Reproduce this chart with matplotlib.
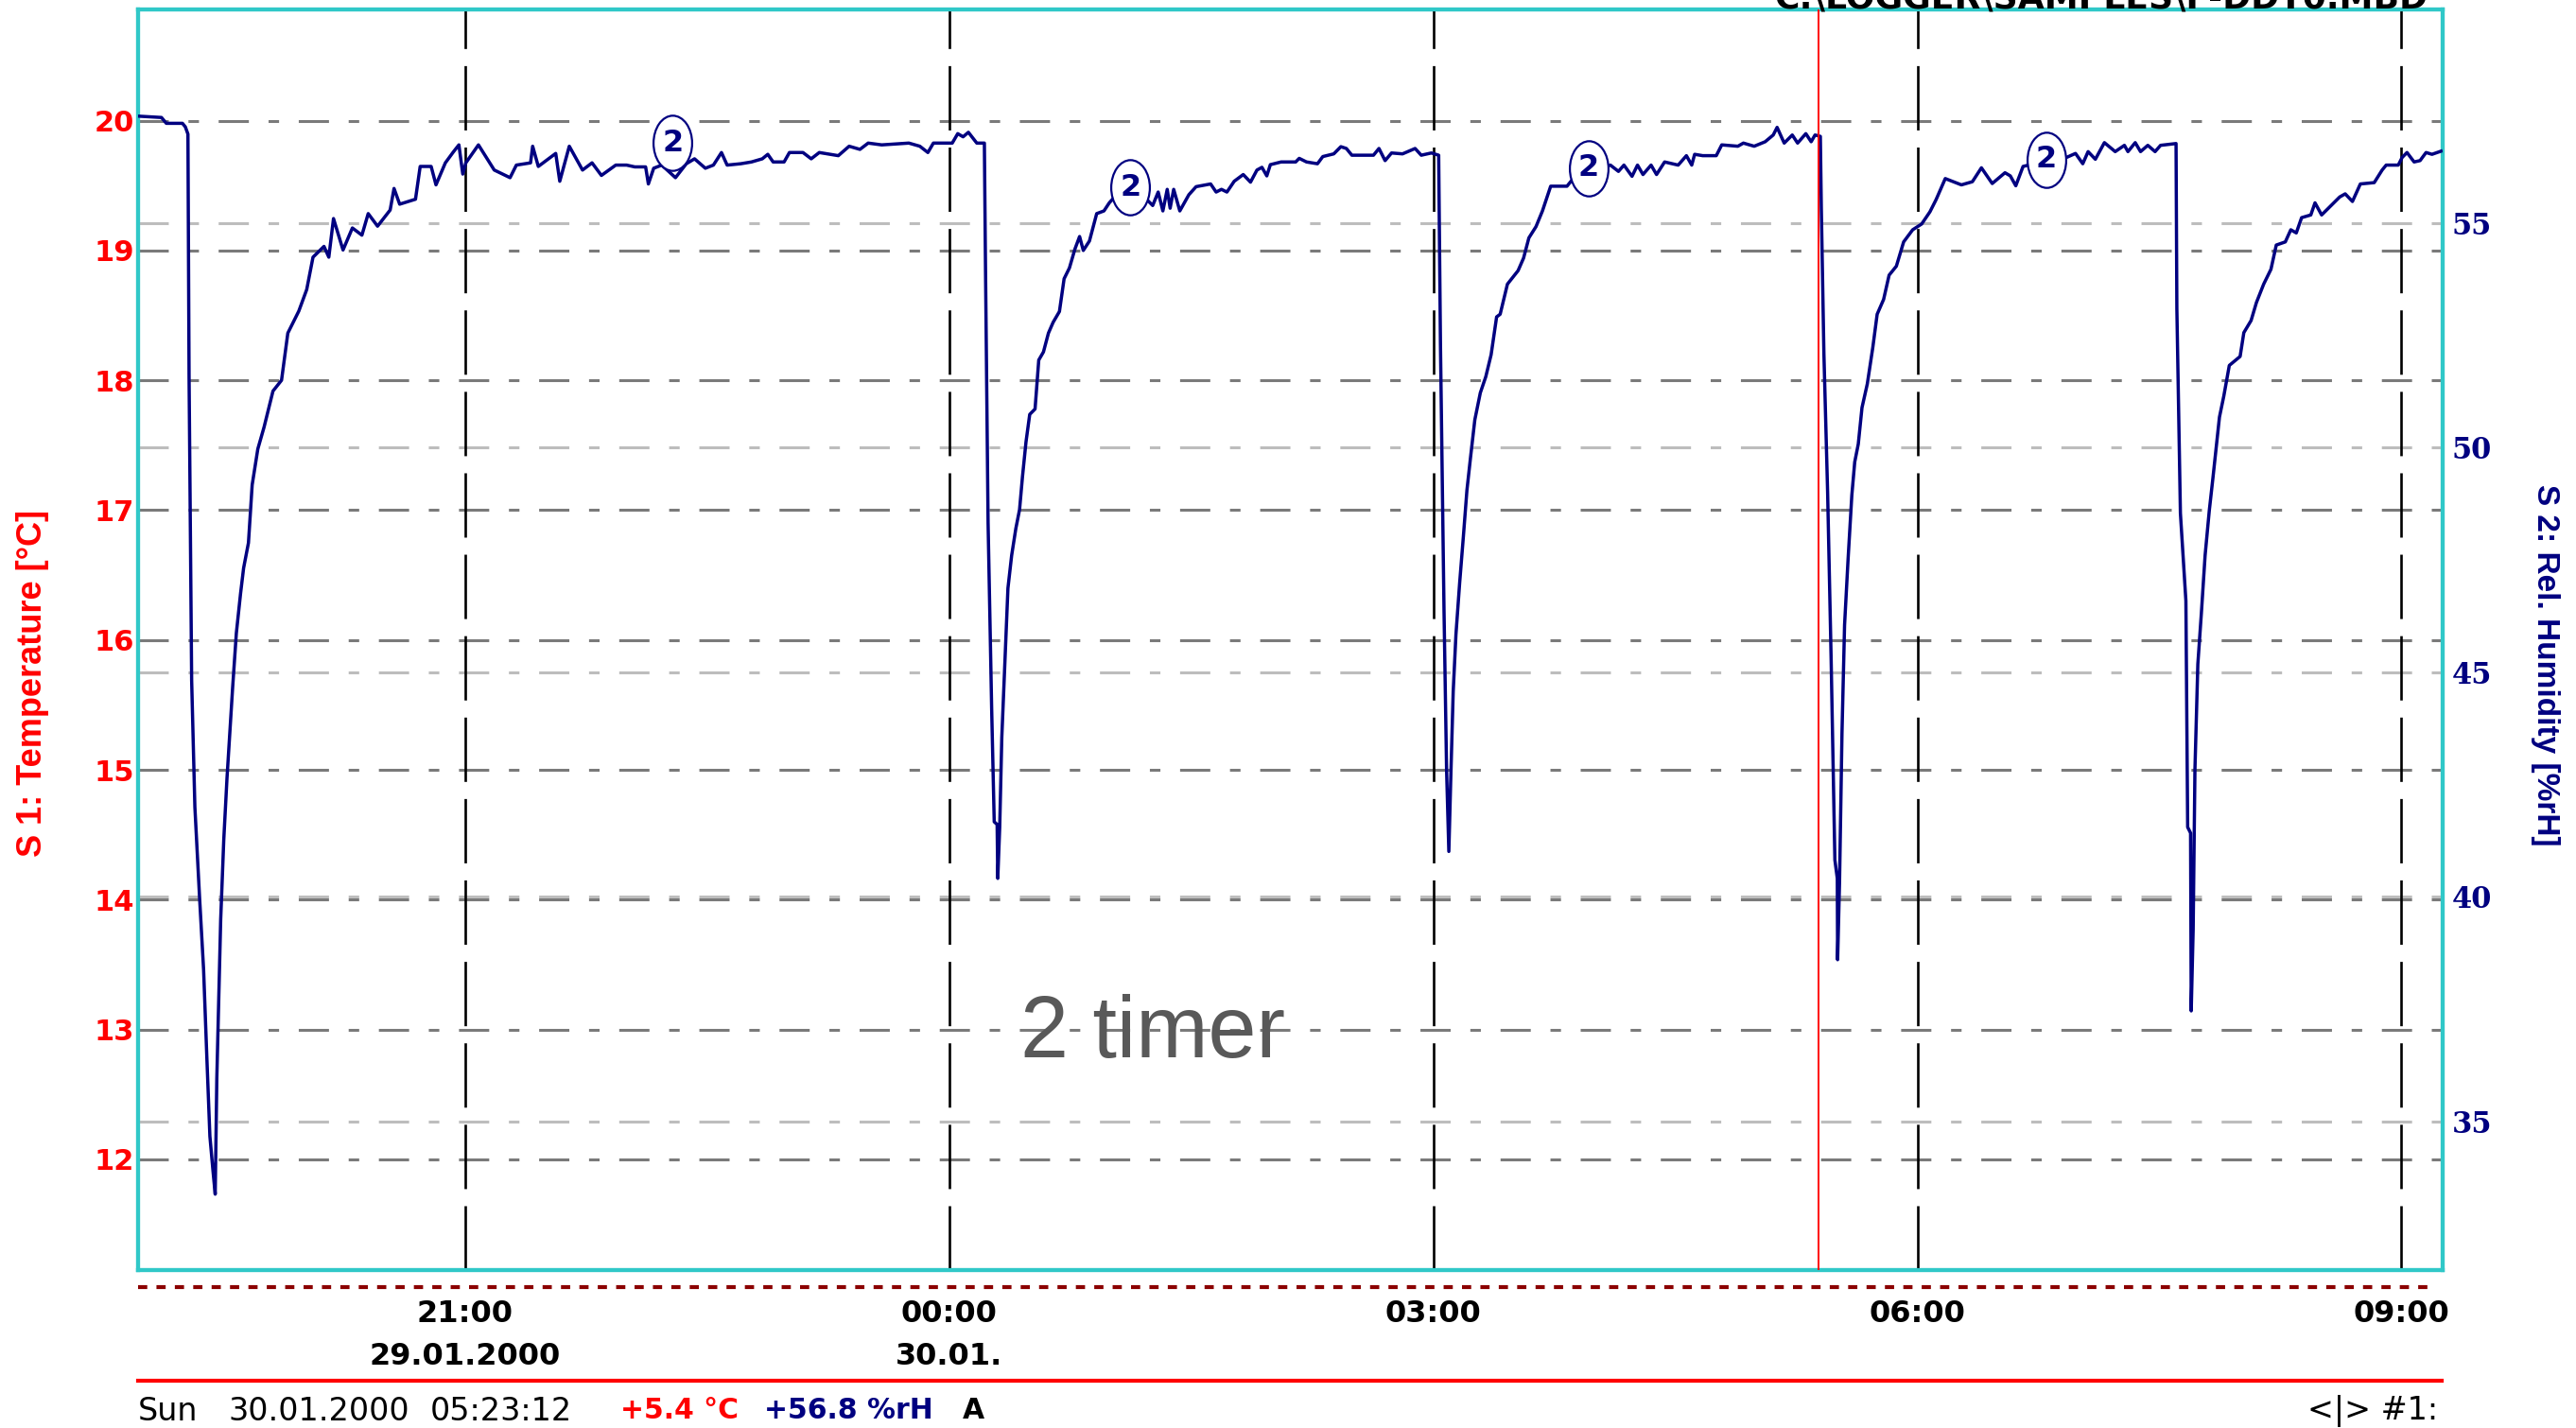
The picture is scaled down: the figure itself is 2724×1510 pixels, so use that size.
import matplotlib
matplotlib.use('Agg')
import matplotlib.pyplot as plt
from matplotlib.lines import Line2D
from matplotlib.path import Path
from matplotlib.transforms import Affine2D

# hours counted from 29.01.2000 00:00, humidity in %rH (channel S2)
hours = [
    18.975, 19.12, 19.15, 19.25, 19.268, 19.284, 19.291, 19.307, 19.327, 19.356,
    19.381, 19.401, 19.42, 19.44, 19.453, 19.463, 19.487, 19.506, 19.526, 19.561,
    19.584, 19.61, 19.629, 19.659, 19.682, 19.717, 19.756, 19.811, 19.864, 19.903,
    19.971, 20.02, 20.059, 20.127, 20.157, 20.186, 20.245, 20.303, 20.362, 20.401,
    20.459, 20.537, 20.561, 20.596, 20.694, 20.723, 20.791, 20.821, 20.879, 20.928,
    20.963, 20.987, 21.006, 21.084, 21.182, 21.28, 21.319, 21.407, 21.42, 21.455,
    21.563, 21.588, 21.647, 21.729, 21.788, 21.846, 21.935, 22.002, 22.053, 22.12,
    22.137, 22.17, 22.22, 22.305, 22.372, 22.423, 22.49, 22.54, 22.59, 22.625,
    22.709, 22.776, 22.843, 22.877, 22.91, 22.978, 23.011, 23.095, 23.146, 23.196,
    23.314, 23.381, 23.448, 23.499, 23.583, 23.751, 23.819, 23.869, 23.903, 24.02,
    24.054, 24.087, 24.12, 24.172, 24.219,
    24.226, 24.242, 24.264, 24.28, 24.298, 24.302, 24.314, 24.327, 24.347, 24.365,
    24.388, 24.414, 24.437, 24.455, 24.477, 24.5, 24.533, 24.556, 24.585, 24.616,
    24.645, 24.684, 24.713, 24.746, 24.78, 24.809, 24.832, 24.87, 24.915, 24.96,
    24.993, 25.038, 25.116, 25.229, 25.262, 25.296, 25.325, 25.352, 25.37, 25.392,
    25.43, 25.486, 25.531, 25.621, 25.655, 25.688, 25.722, 25.767, 25.823, 25.868,
    25.908, 25.939, 25.969, 25.991, 26.058, 26.148, 26.17, 26.215, 26.283, 26.316,
    26.384, 26.428, 26.462, 26.496, 26.63, 26.664, 26.702, 26.742, 26.81, 26.888,
    26.926, 26.989, 27.034,
    27.045, 27.067, 27.083, 27.097, 27.108, 27.124, 27.141, 27.164, 27.187, 27.209,
    27.231, 27.258, 27.292, 27.326, 27.359, 27.393, 27.415, 27.46, 27.526, 27.56,
    27.593, 27.637, 27.677, 27.728, 27.829, 27.863, 27.913, 27.963, 28.098, 28.148,
    28.182, 28.232, 28.266, 28.3, 28.35, 28.384, 28.434, 28.518, 28.569, 28.602,
    28.62, 28.67, 28.754, 28.788, 28.888, 28.922, 28.989, 29.057, 29.107, 29.131,
    29.175, 29.225, 29.258, 29.309, 29.342, 29.366, 29.399,
    29.405, 29.421, 29.444, 29.466, 29.489, 29.504, 29.506, 29.518, 29.533, 29.549,
    29.571, 29.594, 29.612, 29.634, 29.657, 29.69, 29.724, 29.751, 29.791, 29.825,
    29.87, 29.915, 29.971, 30.027, 30.078, 30.116, 30.173, 30.273, 30.341, 30.397,
    30.464, 30.543, 30.576, 30.61, 30.655, 30.8, 30.924, 30.98, 31.025, 31.058,
    31.103, 31.159, 31.226, 31.283, 31.305, 31.35, 31.383, 31.428, 31.473, 31.507,
    31.603,
    31.608, 31.63, 31.664, 31.675, 31.693, 31.697, 31.709, 31.72, 31.738, 31.76,
    31.783, 31.809, 31.832, 31.854, 31.872, 31.899, 31.933, 32.0, 32.023, 32.068,
    32.101, 32.146, 32.191, 32.224, 32.28, 32.314, 32.348, 32.381, 32.438, 32.464,
    32.505, 32.561, 32.617, 32.651, 32.696, 32.745, 32.831, 32.88, 32.905, 32.98,
    33.004, 33.034, 33.078, 33.115, 33.152, 33.189, 33.245,
]
rh = [
    57.38, 57.35, 57.22, 57.22, 57.14, 56.98, 51.59, 44.82, 42.0, 39.99,
    38.38, 36.44, 34.67, 33.87, 33.38, 35.96, 39.5, 41.27, 42.64, 44.66,
    45.87, 46.75, 47.32, 47.88, 49.17, 49.97, 50.46, 51.26, 51.5, 52.55,
    53.04, 53.52, 54.24, 54.48, 54.24, 55.1, 54.4, 54.89, 54.73, 55.21,
    54.93, 55.29, 55.77, 55.42, 55.53, 56.26, 56.26, 55.85, 56.34, 56.58,
    56.74, 56.09, 56.34, 56.74, 56.18, 56.01, 56.29, 56.34, 56.71, 56.26,
    56.55, 55.93, 56.71, 56.18, 56.34, 56.06, 56.29, 56.29, 56.25, 56.25,
    55.87, 56.22, 56.29, 56.01, 56.32, 56.43, 56.22, 56.29, 56.57, 56.29,
    56.32, 56.36, 56.43, 56.53, 56.36, 56.36, 56.57, 56.57, 56.43, 56.57,
    56.5, 56.71, 56.64, 56.78, 56.74, 56.78, 56.71, 56.57, 56.78, 56.78,
    56.99, 56.92, 57.02, 56.78, 56.78,
    54.0, 48.32, 44.21, 41.67, 41.61, 40.41, 41.55, 43.55, 45.3, 46.87,
    47.6, 48.2, 48.62, 49.35, 50.13, 50.74, 50.86, 51.95, 52.13, 52.55,
    52.79, 53.03, 53.76, 54.0, 54.42, 54.7, 54.39, 54.6, 55.21, 55.27,
    55.45, 55.63, 55.75, 55.51, 55.39, 55.69, 55.27, 55.75, 55.33, 55.75,
    55.27, 55.63, 55.81, 55.87, 55.69, 55.75, 55.69, 55.93, 56.08, 55.91,
    56.18, 56.24, 56.05, 56.3, 56.36, 56.36, 56.44, 56.36, 56.32, 56.48,
    56.54, 56.7, 56.66, 56.51, 56.51, 56.66, 56.39, 56.56, 56.54, 56.66,
    56.51, 56.56, 56.51,
    52.31, 46.39, 42.82, 41.01, 42.52, 44.57, 45.84, 46.99, 48.02, 49.05,
    49.77, 50.62, 51.22, 51.58, 52.07, 52.91, 52.97, 53.64, 53.94, 54.22,
    54.67, 54.92, 55.27, 55.82, 55.82, 55.97, 55.97, 56.1, 56.29, 56.15,
    56.29, 56.04, 56.29, 56.08, 56.29, 56.08, 56.36, 56.29, 56.5, 56.29,
    56.53, 56.5, 56.5, 56.74, 56.71, 56.78, 56.71, 56.81, 56.96, 57.13,
    56.78, 56.96, 56.78, 56.99, 56.81, 56.96, 56.93,
    55.32, 52.09, 49.01, 45.25, 40.82, 40.41, 38.6, 40.35, 43.64, 46.05,
    47.53, 48.94, 49.68, 50.08, 50.89, 51.42, 52.23, 52.97, 53.3, 53.84,
    54.04, 54.58, 54.85, 54.98, 55.25, 55.52, 55.99, 55.85, 55.92, 56.23,
    55.88, 56.12, 56.05, 55.83, 56.26, 56.39, 56.46, 56.55, 56.32, 56.59,
    56.42, 56.79, 56.59, 56.73, 56.59, 56.79, 56.59, 56.73, 56.59, 56.73,
    56.77,
    53.1, 48.54, 46.59, 41.55, 41.42, 37.46, 39.27, 42.83, 45.18, 46.32,
    47.6, 48.6, 49.34, 50.08, 50.68, 51.15, 51.83, 52.03, 52.56, 52.83,
    53.23, 53.64, 53.97, 54.51, 54.58, 54.85, 54.78, 55.12, 55.18, 55.45,
    55.18, 55.38, 55.58, 55.65, 55.48, 55.87, 55.9, 56.18, 56.29, 56.29,
    56.46, 56.57, 56.36, 56.39, 56.57, 56.53, 56.6,
]

marker_hours = [22.288, 25.123, 27.963, 30.80]
marker_rh = [56.78, 55.79, 56.22, 56.41]

temp_ticks = [12, 13, 14, 15, 16, 17, 18, 19, 20]
rh_ticks = [35, 40, 45, 50, 55]
time_ticks = [21, 24, 27, 30, 33]
time_labels = ['21:00\n29.01.2000', '00:00\n30.01.', '03:00', '06:00', '09:00']
cursor_hour = 29.387

W, H = 2724, 1510
NAVY = '#000080'
CYAN = '#30c8c8'

plt.rcParams['lines.scale_dashes'] = False
fig = plt.figure(figsize=(W / 100, H / 100), dpi=100)
ax = fig.add_axes([146 / W, 1 - 1343 / H, (2583 - 146) / W, (1343 - 10) / H])
ax.set_xlim(18.975, 33.255)
ax.set_ylim(11.147, 20.857)
ax2 = ax.twinx()
ax2.set_ylim(31.69, 59.755)

# grid: dark for S1 ticks, light for S2 ticks, black dashed for time
for t in temp_ticks:
    ax.axhline(t, color='#7a7a7a', lw=2.2, dashes=(23, 15, 8, 15), zorder=1)
for h in rh_ticks:
    ax2.axhline(h, color='#bdbdbd', lw=2.2, dashes=(23, 15, 8, 15), zorder=1)
for t in time_ticks:
    ax2.axvline(t, color='black', lw=1.9, dashes=(49, 13), zorder=2)
ax2.axvline(cursor_hour, color='red', lw=1.4, zorder=4)

ax2.plot(hours, rh, color=NAVY, lw=2.5, zorder=3)

oval = Affine2D().scale(0.7, 1.0).transform_path(Path.unit_circle())
ax2.plot(marker_hours, marker_rh, ls='none', marker=oval, ms=42,
         mfc='white', mec=NAVY, mew=1.6, zorder=5)
for mt, mh in zip(marker_hours, marker_rh):
    ax2.text(mt, mh, '2', color=NAVY, fontsize=23, fontweight='bold',
             ha='center', va='center', zorder=6)

for a in (ax, ax2):
    for s in a.spines.values():
        s.set_color(CYAN)
        s.set_linewidth(3)

ax.set_yticks(temp_ticks)
ax.set_yticklabels([str(v) for v in temp_ticks], fontweight='bold',
                   fontsize=22, color='red')
ax.tick_params(axis='y', length=0, pad=3)
ax2.set_yticks(rh_ticks)
ax2.set_yticklabels([str(v) for v in rh_ticks], fontweight='bold',
                    fontsize=22, color=NAVY, family='DejaVu Serif')
ax2.tick_params(axis='y', length=0, pad=7)
ax.set_xticks(time_ticks)
ax.set_xticklabels(time_labels, fontweight='bold', fontsize=23, linespacing=1.6)
ax.tick_params(axis='x', length=0, pad=22)

fig.text(35 / W, 1 - 722 / H, 'S 1: Temperature [°C]', rotation=90, color='red',
         fontsize=26, fontweight='bold', family='Liberation Sans', ha='center', va='center')
fig.text(2692 / W, 1 - 703 / H, 'S 2: Rel. Humidity [%rH]', rotation=270, color=NAVY,
         fontsize=24, fontweight='bold', family='Liberation Sans', ha='center', va='center')

fig.text(2222 / W, 1 - 9 / H, 'C:\\LOGGER\\SAMPLES\\F-DDT0.MBD', ha='center',
         va='baseline', fontsize=26, fontweight='bold')

fig.text(1219 / W, 1 - 1094 / H, '2 timer', fontsize=66, color='#595959',
         family='Liberation Sans', ha='center', va='center')

fig.add_artist(Line2D([146 / W, 2574 / W], [1 - 1361 / H] * 2, transform=fig.transFigure,
                      color='#8b0000', lw=3, dashes=(7, 7)))
fig.add_artist(Line2D([146 / W, 2582 / W], [1 - 1460 / H] * 2, transform=fig.transFigure,
                      color='red', lw=3))

yb = 1 - 1492 / H
fig.text(146 / W, yb, 'Sun', fontsize=24, va='center')
fig.text(241 / W, yb, '30.01.2000', fontsize=24, va='center')
fig.text(455 / W, yb, '05:23:12', fontsize=24, va='center')
fig.text(656 / W, yb, '+5.4 °C', fontsize=21.5, fontweight='bold', color='red', va='center')
fig.text(808 / W, yb, '+56.8 %rH', fontsize=21.5, fontweight='bold', color=NAVY, va='center')
fig.text(1018 / W, yb, 'A', fontsize=21.5, fontweight='bold', va='center')
fig.text(2578 / W, yb, '<|> #1:', fontsize=24, va='center', ha='right')

fig.savefig('out.png', dpi=100)
